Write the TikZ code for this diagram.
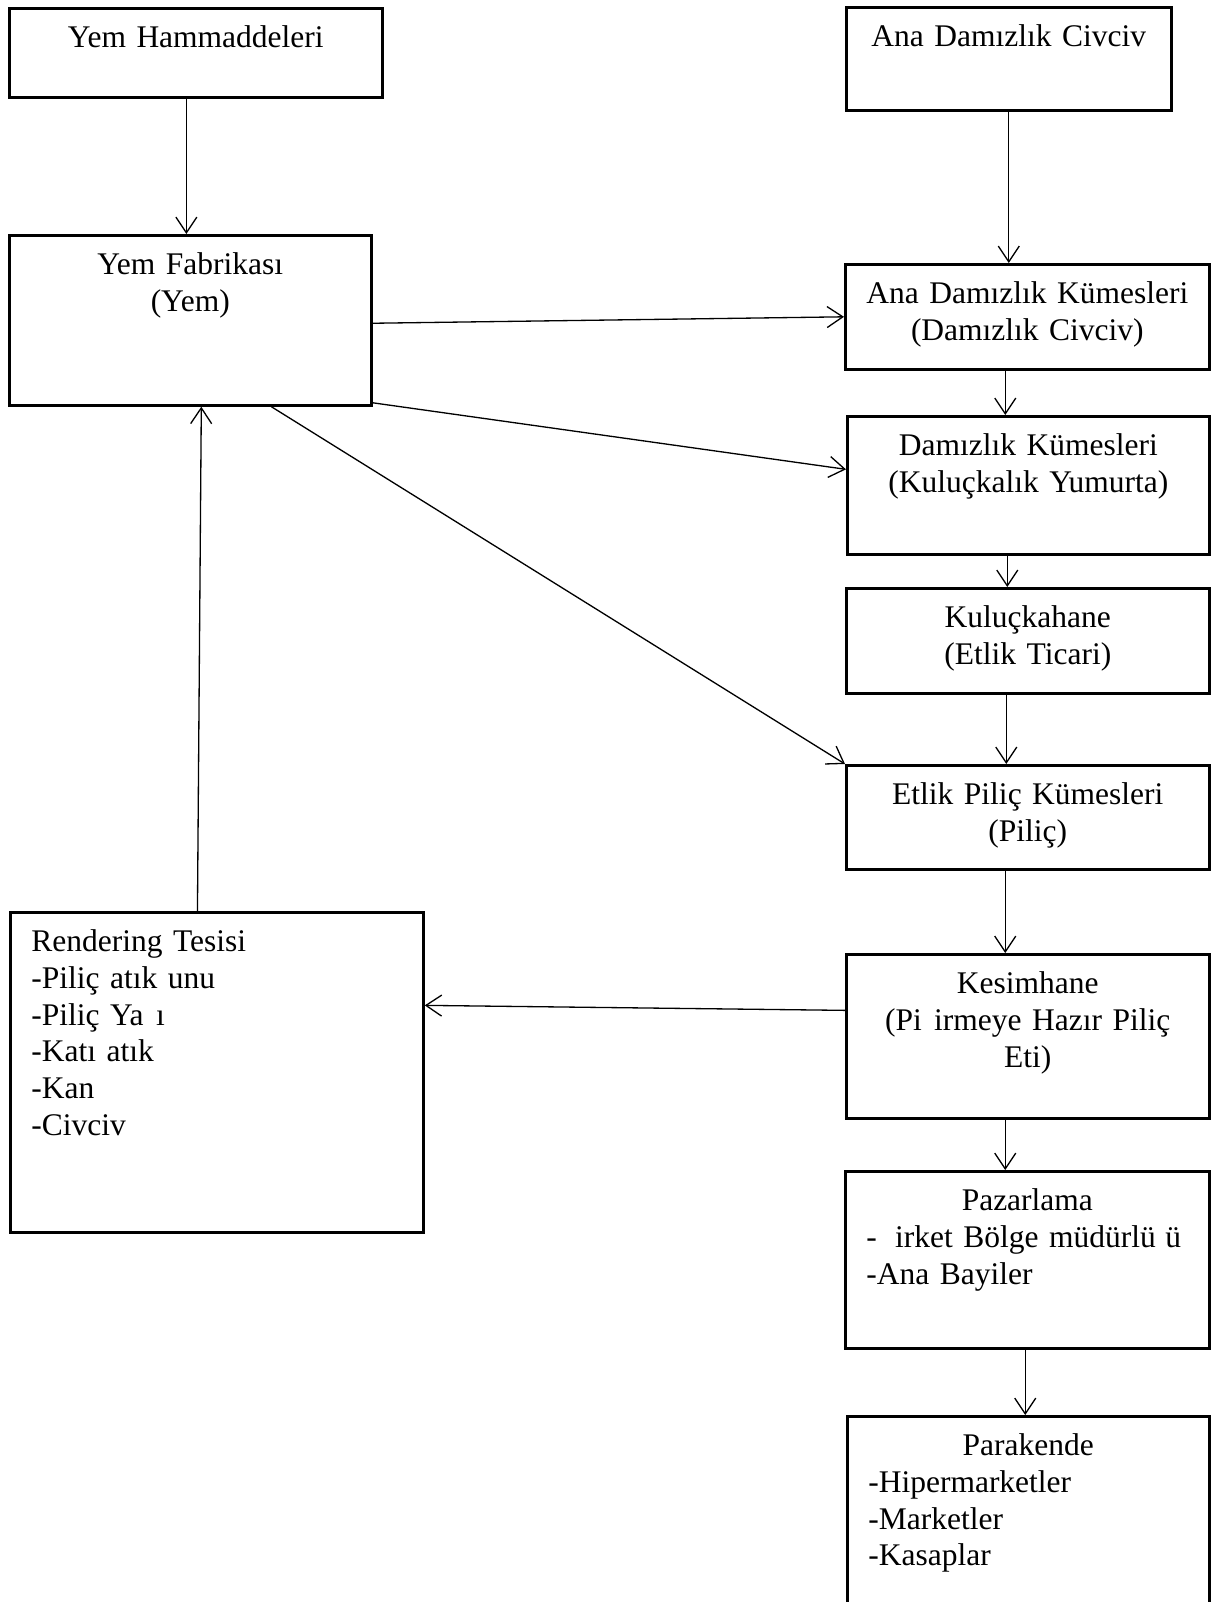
\documentclass[tikz,border=0pt]{standalone}
\usepackage{fontspec}
\setmainfont{Liberation Serif}
\usepackage{tikz}
\usetikzlibrary{arrows.meta}

\begin{document}
\begin{tikzpicture}[
    x=0.381pt,y=-0.381pt,
    font=\fontsize{12}{14}\selectfont,
    box/.style={draw,line width=1pt,anchor=north west,inner ysep=0pt,text height=15pt},
    cbox/.style={box,align=center,inner xsep=0pt},
    lbox/.style={box,align=left,inner xsep=8pt},
    arr/.style={-{Straight Barb[length=6pt,width=8pt]},line width=0.5pt}
]
\useasboundingbox (0,0) rectangle (1224,1602);
\node[cbox,text width=142.1pt,text depth=18.9pt] (hammadde) at (8,7) {Yem Hammaddeleri};
\node[cbox,text width=137.9pt,text depth=49.8pt] (fabrika) at (8,234) {Yem Fabrikası\\(Yem)};
\node[lbox,text width=141.4pt,text depth=106.9pt] (rendering) at (9,911) {Rendering Tesisi\\-Piliç atık unu\\-Piliç Ya\hspace{.4em}ı\\-Katı atık\\-Kan\\-Civciv};
\node[cbox,text width=123.8pt,text depth=24.2pt] (adcivciv) at (845,6) {Ana Damızlık Civciv};
\node[cbox,text width=138.7pt,text depth=25pt] (adkumes) at (844,263) {Ana Damızlık Kümesleri\\(Damızlık Civciv)};
\node[cbox,text width=137.9pt,text depth=37.6pt] (dkumes) at (846,415) {Damızlık Kümesleri\\(Kuluçkalık Yumurta)};
\node[cbox,text width=138.3pt,text depth=25pt] (kulucka) at (845,587) {Kuluçkahane\\(Etlik Ticari)};
\node[cbox,text width=138.3pt,text depth=24.6pt] (etlik) at (845,764) {Etlik Piliç Kümesleri\\(Piliç)};
\node[cbox,text width=138.3pt,text depth=47.5pt] (kesim) at (845,953) {Kesimhane\\(Pi\hspace{.39em}irmeye Hazır Piliç\\Eti)};
\node[lbox,text width=122.7pt,text depth=52.4pt] (pazar) at (844,1170) {\makebox[\linewidth]{Pazarlama}\\\mbox{- \hspace{.25em}irket Bölge müdürlü\hspace{.3em}ü}\\-Ana Bayiler};
\node[lbox,text width=121.9pt,text depth=70pt] (parakende) at (846,1415) {\makebox[\linewidth]{Parakende}\\-Hipermarketler\\-Marketler\\-Kasaplar};
\draw[arr] ([xshift=-3.6pt]hammadde.south) -- ([xshift=-3.6pt]hammadde.south |- fabrika.north);
\draw[arr] (adcivciv.south) -- (adcivciv.south |- adkumes.north);
\draw[arr] ([xshift=-8.4pt]adkumes.south) -- ([xshift=-8.4pt]adkumes.south |- dkumes.north);
\draw[arr] ([xshift=-8pt]dkumes.south) -- ([xshift=-8pt]dkumes.south |- kulucka.north);
\draw[arr] ([xshift=-8.2pt]kulucka.south) -- ([xshift=-8.2pt]kulucka.south |- etlik.north);
\draw[arr] ([xshift=-8.6pt]etlik.south) -- ([xshift=-8.6pt]etlik.south |- kesim.north);
\draw[arr] ([xshift=-8.6pt]kesim.south) -- ([xshift=-8.6pt]kesim.south |- pazar.north);
\draw[arr] ([xshift=-0.8pt]pazar.south) -- ([xshift=-0.8pt]pazar.south |- parakende.north);
\draw[arr] ([yshift=-1.1pt]fabrika.east) -- (adkumes.west);
\draw[arr] ([yshift=1.5pt]fabrika.south east) -- ([yshift=6.1pt]dkumes.west);
\draw[arr] ([xshift=30.9pt]fabrika.south) -- (etlik.north west);
\draw[arr] ([yshift=9.9pt]kesim.west) -- ([yshift=25.5pt]rendering.east);
\draw[arr] ([xshift=-7.4pt]rendering.north) -- ([xshift=4.2pt]fabrika.south);
\end{tikzpicture}
\end{document}
